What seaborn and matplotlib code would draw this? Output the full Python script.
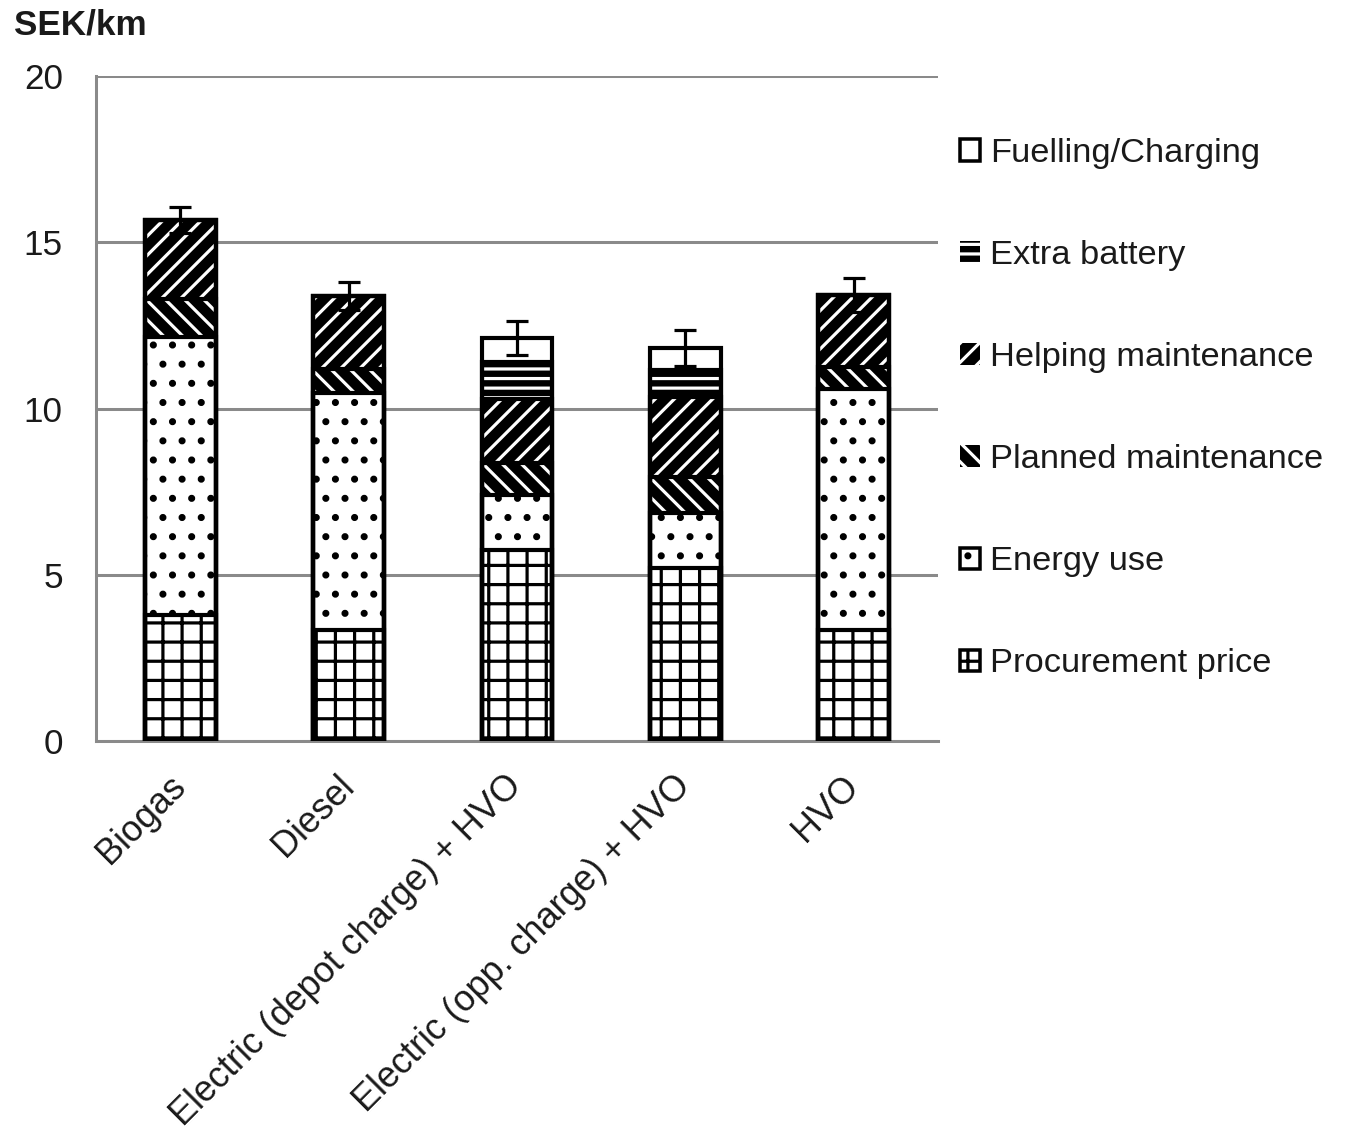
import matplotlib
matplotlib.use("Agg")
import matplotlib.pyplot as plt
import matplotlib.patches as mpatches
import numpy as np
import pandas as pd
import seaborn as sns

categories = ["Biogas", "Diesel", "Electric (depot charge) + HVO",
              "Electric (opp. charge) + HVO", "HVO"]
procurement = [3.80, 3.35, 5.75, 5.20, 3.35]
energy_use = [8.35, 7.12, 1.65, 1.66, 7.25]
planned_maint = [1.15, 0.73, 0.95, 1.08, 0.65]
helping_maint = [2.37, 2.18, 1.95, 2.41, 2.16]
extra_battery = [0.00, 0.00, 1.10, 0.81, 0.00]
fuelling = [0.00, 0.00, 0.72, 0.66, 0.00]
error_plus_minus = [0.40, 0.42, 0.51, 0.54, 0.51]

series_names = ["Procurement price", "Energy use", "Planned maintenance",
                "Helping maintenance", "Extra battery", "Fuelling/Charging"]
series_values = [procurement, energy_use, planned_maint, helping_maint,
                 extra_battery, fuelling]
y_ticks = [0, 5, 10, 15, 20]

sns.set_style("white")
plt.rcParams["font.family"] = ["Liberation Sans", "DejaVu Sans"]
plt.rcParams["hatch.linewidth"] = 2.0

DPI = 115
fig = plt.figure(figsize=(1358 / DPI, 1148 / DPI), dpi=DPI)
ax = fig.add_axes([96 / 1358, 1 - 741 / 1148, (938 - 96) / 1358, (741 - 76) / 1148])

# styles: (facecolor, hatch colour, hatch)
styles = {
    "Procurement price": ("white", "black", "+"),
    "Energy use": ("white", "black", "."),
    "Planned maintenance": ("black", "white", "\\\\"),
    "Helping maintenance": ("black", "white", "//"),
    "Extra battery": ("black", "white", "--"),
    "Fuelling/Charging": ("white", "black", ""),
}

df = pd.DataFrame({"category": categories})
cum = np.zeros(len(categories))
cums = []
for name, vals in zip(series_names, series_values):
    cum = cum + np.array(vals)
    cums.append(cum.copy())
    df[name] = cum.copy()

BW = 0.42
# draw fills from the tallest cumulative layer down
for name in reversed(series_names):
    fc, ec, h = styles[name]
    sns.barplot(data=df, x="category", y=name, order=categories, ax=ax,
                width=BW, errorbar=None, facecolor=fc, edgecolor=ec,
                hatch=h, linewidth=0, zorder=2)
# black outlines of each segment
for name in reversed(series_names):
    sns.barplot(data=df, x="category", y=name, order=categories, ax=ax,
                width=BW, errorbar=None, facecolor="none", edgecolor="black",
                linewidth=2.6, zorder=3)

totals = cums[-1]
ax.errorbar(x=np.arange(len(categories)), y=totals, yerr=error_plus_minus,
            fmt="none", ecolor="black", elinewidth=2.0, capsize=7,
            capthick=2.0, zorder=4)

gray = "#8a8a8a"
ax.set_ylim(0, 20)
ax.set_xlim(-0.5, len(categories) - 0.5)
ax.set_yticks(y_ticks)
ax.set_yticklabels([str(t) for t in y_ticks])
ax.yaxis.grid(True, color=gray, linewidth=1.9)
ax.xaxis.grid(False)
ax.set_axisbelow(True)
for s in ["top", "right"]:
    ax.spines[s].set_visible(False)
for s in ["left", "bottom"]:
    ax.spines[s].set_color(gray)
    ax.spines[s].set_linewidth(1.9)
ax.set_xlabel("")
ax.set_ylabel("")

ax.tick_params(axis="y", direction="out", length=8.8, width=1.9, color=gray,
               labelsize=22, pad=12, labelcolor="#1a1a1a")
ax.set_xticks(np.arange(len(categories)))
ax.set_xticks(np.arange(-0.5, len(categories), 1.0), minor=True)
ax.tick_params(axis="x", which="major", length=0, pad=25, labelsize=22.5,
               labelcolor="#1a1a1a")
ax.tick_params(axis="x", which="minor", direction="out", length=4.5,
               width=1.9, color=gray)
ax.set_xticklabels(categories, rotation=45, ha="right",
                   rotation_mode="anchor", va="center")

fig.text(14 / 1358, 1 - 25 / 1148, "SEK/km", fontsize=22, fontweight="bold",
         va="center", ha="left", color="#1a1a1a")

handles = []
for name in reversed(series_names):
    fc, ec, h = styles[name]
    if fc == "white":
        handles.append(mpatches.Patch(facecolor=fc, edgecolor="black",
                                      hatch=h, linewidth=2.2, label=name))
    else:
        handles.append(mpatches.Patch(facecolor=fc, edgecolor=ec,
                                      hatch=h, linewidth=0, label=name))
fig.legend(handles=handles, loc="upper left",
           bbox_to_anchor=(960 / 1358, 1 - 138 / 1148), frameon=False,
           fontsize=21.5, handlelength=0.58, handleheight=0.58,
           handletextpad=0.3, labelspacing=2.07, borderpad=0,
           borderaxespad=0, labelcolor="#1a1a1a")

fig.savefig("out.png", dpi=DPI)
